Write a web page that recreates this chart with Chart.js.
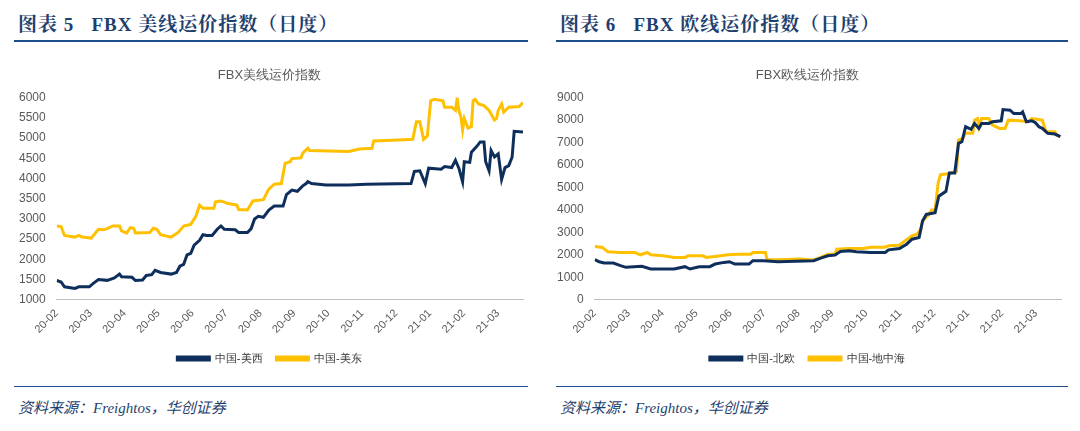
<!DOCTYPE html>
<html><head><meta charset="utf-8">
<script src="https://cdn.jsdelivr.net/npm/chart.js@4"></script>
<style>
body{margin:0;background:#fff;width:1080px;height:431px;position:relative;font-family:"Noto Sans CJK SC",sans-serif;overflow:hidden}
.hd{position:absolute;top:9px;font-family:"Liberation Serif","Noto Serif CJK SC","Noto Sans CJK SC",serif;font-weight:bold;font-size:19px;color:#1f3f6e;letter-spacing:1px}
.ln{position:absolute;top:40px;height:2px;background:#1f4e8c}
.fl{position:absolute;top:386px;height:1px;background:#1f4e8c}
.src{position:absolute;top:396px;font-style:italic;font-size:15px;color:#1f3f6e;font-family:"Liberation Serif","Noto Sans CJK SC",serif}
.box{position:absolute;top:62px;width:525px;height:312px}
</style></head><body>
<div class="hd" style="left:18px">图表 5&nbsp;&nbsp; FBX 美线运价指数（日度）</div>
<div class="hd" style="left:560px">图表 6&nbsp;&nbsp; FBX 欧线运价指数（日度）</div>
<div class="ln" style="left:14px;width:514px"></div>
<div class="ln" style="left:556px;width:512px"></div>
<div class="fl" style="left:14px;width:514px"></div>
<div class="fl" style="left:556px;width:512px"></div>
<div class="src" style="left:18px">资料来源：Freightos，华创证券</div>
<div class="src" style="left:560px">资料来源：Freightos，华创证券</div>
<div class="box" style="left:12px"><canvas id="c1"></canvas></div>
<div class="box" style="left:550px"><canvas id="c2"></canvas></div>
<script>
const monthLabels = ["20-02","20-03","20-04","20-05","20-06","20-07","20-08","20-09","20-10","20-11","20-12","21-01","21-02","21-03"];

// months since 2020-02-01
const westX = [0,.13,.23,.54,.65,.96,1.07,1.23,1.49,1.70,1.85,1.91,2.22,2.32,2.53,2.64,2.80,2.90,3.06,3.37,3.53,3.63,3.74,3.84,3.95,4.05,4.21,4.31,4.42,4.58,4.73,4.84,4.94,5.26,5.36,5.62,5.73,5.83,5.94,6.09,6.25,6.41,6.67,6.77,6.93,7.09,7.25,7.35,7.40,7.51,7.93,8.61,9.13,10.44,10.54,10.70,10.86,10.96,11.33,11.43,11.64,11.75,11.85,11.96,12.01,12.17,12.22,12.38,12.48,12.59,12.64,12.74,12.80,12.90,13.01,13.11,13.21,13.32,13.42,13.48,13.74];
const westY = [1476,1440,1320,1280,1320,1320,1400,1500,1480,1540,1635,1570,1555,1475,1490,1600,1620,1730,1675,1635,1675,1830,1875,2110,2150,2350,2470,2610,2590,2590,2745,2825,2745,2730,2665,2665,2760,3000,3063,3040,3220,3317,3317,3600,3714,3683,3817,3873,3920,3873,3841,3841,3857,3873,4175,4190,3873,4254,4230,4294,4270,4450,4254,3920,4413,4397,4650,4794,4905,4905,4413,4190,4690,4532,4610,3976,4270,4318,4532,5167,5150];
const eastX = [0,.13,.23,.54,.65,.75,1.02,1.12,1.23,1.38,1.49,1.65,1.85,1.91,2.06,2.17,2.27,2.32,2.74,2.85,2.95,3.06,3.37,3.58,3.74,3.95,4.10,4.21,4.31,4.63,4.68,4.84,5.05,5.31,5.36,5.62,5.78,6.09,6.25,6.41,6.62,6.73,6.88,6.93,7.20,7.25,7.40,7.45,8.61,8.92,9.29,9.34,10.08,10.49,10.60,10.70,10.81,10.92,11.02,11.12,11.38,11.43,11.64,11.75,11.80,11.85,11.91,11.96,12.01,12.12,12.22,12.27,12.33,12.43,12.59,12.74,12.90,12.96,13.01,13.11,13.17,13.32,13.63,13.74];
const eastY = [2825,2810,2590,2550,2590,2550,2525,2630,2745,2730,2760,2825,2825,2705,2650,2785,2770,2650,2665,2770,2745,2610,2550,2665,2825,2865,3063,3341,3262,3262,3421,3444,3380,3341,3230,3220,3444,3476,3738,3857,3873,4373,4413,4492,4508,4627,4746,4690,4667,4730,4746,4929,4952,4968,5405,5405,4968,5048,5920,5960,5920,5762,5762,5683,5984,5683,5524,5206,5484,5246,5286,5920,5960,5841,5800,5683,5444,5484,5683,5841,5643,5762,5778,5880];

const northX = [0,.13,.28,.55,.76,.92,1.39,1.65,2.23,2.34,2.66,2.81,3.08,3.39,3.55,3.81,3.97,4.13,4.55,4.66,4.97,5.40,6.45,6.66,6.87,7.08,7.24,7.50,7.71,8.13,8.56,8.66,8.98,9.19,9.35,9.56,9.66,9.77,10.03,10.14,10.35,10.45,10.61,10.72,10.82,10.93,11.09,11.19,11.32,11.40,11.61,11.72,11.98,12.03,12.24,12.35,12.56,12.61,12.72,12.88,12.98,13.09,13.19,13.35,13.56,13.72];
const northY = [1782,1694,1635,1635,1517,1443,1487,1370,1370,1370,1473,1370,1473,1473,1590,1664,1694,1590,1590,1738,1738,1694,1738,1856,1959,1988,2150,2180,2135,2106,2106,2224,2283,2474,2695,2769,3505,3800,3873,4610,4830,5641,5641,6966,7040,7703,7585,7850,7630,7850,7850,7923,7968,8468,8439,8292,8292,8365,7923,7968,7894,7703,7630,7408,7378,7260];
const medX = [0,.23,.39,.76,1.18,1.34,1.55,1.65,2.02,2.34,2.66,2.76,3.18,3.29,3.71,3.92,4.34,4.60,4.66,5.03,5.08,5.40,6.03,6.45,6.66,6.87,7.08,7.13,7.50,7.92,8.13,8.56,8.66,8.98,9.14,9.35,9.50,9.61,9.66,9.82,9.93,10.03,10.12,10.19,10.40,10.51,10.66,10.72,10.85,10.93,11.14,11.19,11.28,11.32,11.40,11.61,11.72,11.93,12.09,12.19,12.51,12.77,12.88,13.19,13.30,13.56,13.61,13.72];
const medY = [2371,2327,2135,2106,2106,2003,2106,2003,1959,1885,1885,1959,1959,1885,1959,2003,2032,2032,2106,2106,1782,1782,1812,1767,1885,2032,2032,2253,2283,2283,2342,2342,2401,2430,2622,2842,2916,3137,3505,3755,3991,3991,5199,5567,5611,5641,5714,7113,7187,7408,7408,7997,8071,7703,8071,8071,7776,7630,7630,7997,7968,7923,8071,7997,7482,7482,7334,7260];

const pts = (xs, ys) => xs.map((x, i) => ({ x: x, y: ys[i] }));

const configFor = function (title, sets, yMin, yMax, step) {
  return {
    type: "line",
    data: {
      datasets: sets.map((s) => ({
        label: s.label,
        data: pts(s.x, s.y),
        borderColor: s.color,
        backgroundColor: s.color,
        borderWidth: 3,
        pointRadius: 0,
        tension: 0,
      })),
    },
    options: {
      responsive: true,
      maintainAspectRatio: false,
      animation: false,
      layout: { padding: { left: 4, right: 14, top: 0, bottom: 0 } },
      plugins: {
        title: { display: true, text: title, color: "#595959", font: { size: 13, weight: "normal" }, padding: { top: 6, bottom: 14 } },
        legend: {
          position: "bottom",
          labels: { boxWidth: 32, boxHeight: 3, color: "#333", font: { size: 11 }, padding: 14 },
        },
      },
      scales: {
        x: {
          type: "linear", min: 0, max: 13.74,
          grid: { display: false, drawTicks: true, tickLength: 4 },
          border: { color: "#bfbfbf" },
          afterBuildTicks: (ax) => { ax.ticks = monthLabels.map((m, i) => ({ value: i })); },
          ticks: {
            autoSkip: false, maxRotation: 45, minRotation: 45, color: "#595959", font: { size: 11 },
            callback: (v) => monthLabels[v],
          },
        },
        y: {
          min: yMin, max: yMax,
          grid: { display: false },
          border: { display: false },
          ticks: { stepSize: step, color: "#595959", font: { size: 12 }, callback: (v) => String(v) },
        },
      },
    },
  };
};

new Chart(document.getElementById("c1"), configFor("FBX美线运价指数", [
  { label: "中国-美西", x: westX, y: westY, color: "#0e2f5c" },
  { label: "中国-美东", x: eastX, y: eastY, color: "#ffc000" },
], 1000, 6000, 500));

new Chart(document.getElementById("c2"), configFor("FBX欧线运价指数", [
  { label: "中国-北欧", x: northX, y: northY, color: "#0e2f5c" },
  { label: "中国-地中海", x: medX, y: medY, color: "#ffc000" },
], 0, 9000, 1000));
</script>
</body></html>
